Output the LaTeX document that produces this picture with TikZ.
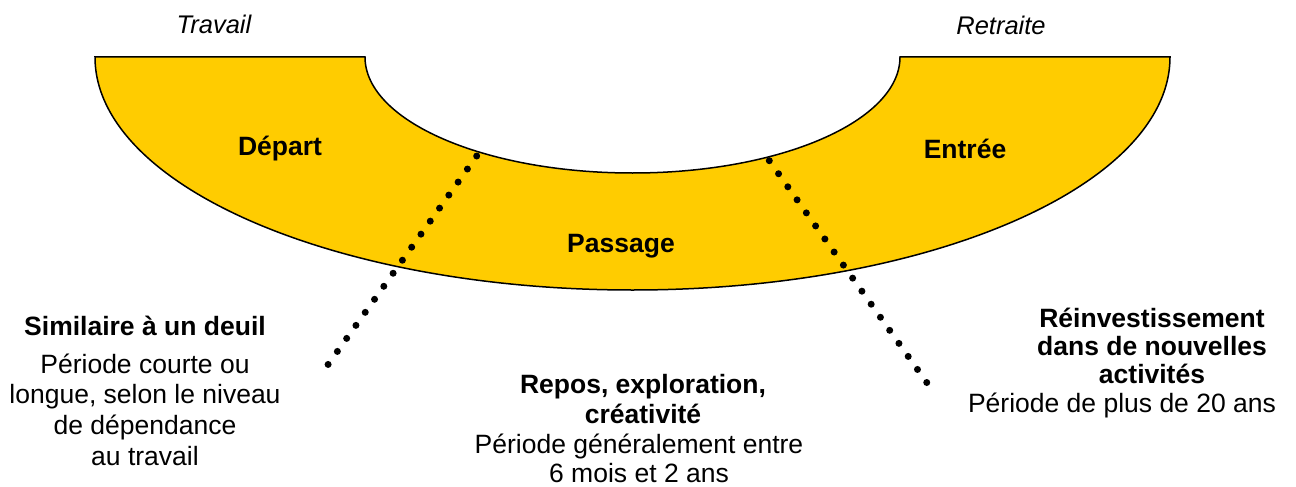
\documentclass[tikz,border=0pt]{standalone}
\usepackage{fontspec}
\setmainfont{Liberation Sans}
\definecolor{bandgold}{HTML}{FFCC00}
\newcommand\blocklines[1]{\begin{tabular}[t]{@{}c@{}}#1\end{tabular}}
\begin{document}
\begin{tikzpicture}[x=1pt,y=-1pt,
  band/.style={fill=bandgold,draw=black,line width=1.5pt,line join=miter},
  dotline/.style={line width=7pt,line cap=round,dash pattern=on 0pt off 16pt},
  lbl/.style={inner sep=0pt,anchor=base},
  txt/.style={lbl,font=\fontsize{26.5}{#1}\selectfont},
  txtb/.style={lbl,font=\fontsize{26.5}{#1}\selectfont\bfseries},
  side/.style={lbl,font=\fontsize{25.5}{30}\selectfont\itshape}]
\useasboundingbox (0,0) rectangle (1296,487);

% band
\draw[band] (95,57) arc[start angle=180,end angle=0,x radius=537.5,y radius=233]
  -- (900,57) arc[start angle=0,end angle=180,x radius=267.5,y radius=116] -- cycle;

% dotted separators
\coordinate (la) at (476.7,156);
\coordinate (lb) at (327.7,365);
\coordinate (ra) at (769.3,160.7);
\coordinate (rb) at (927.3,383.3);
\draw[dotline] (la) -- (lb);
\draw[dotline] (ra) -- (rb);

% labels
\node[side] (travail) at (214,33.5) {Travail};
\node[side] (retraite) at (1001,35) {Retraite};
\node[txtb=30] (depart) at (280,155) {Départ};
\node[txtb=30] (entree) at (965,158) {Entrée};
\node[txtb=30] (passage) at (621,252) {Passage};

\node[txtb=30] (deuiltitle) at (145,335) {Similaire à un deuil};
\node[txt=30.7] (deuilbody) at (145,373) {\blocklines{Période courte ou\\longue, selon le niveau\\de dépendance\\au travail}};

\node[txtb=30] (repostitle) at (643,393) {\blocklines{Repos, exploration,\\créativité}};
\node[txt=29] (reposbody) at (639,453) {\blocklines{Période généralement entre\\6 mois et 2 ans}};

\node[txtb=28] (reinvtitle) at (1152,327) {\blocklines{Réinvestissement\\dans de nouvelles\\activités}};
\node[txt=28] (reinvbody) at (1122,412) {Période de plus de 20 ans};
\end{tikzpicture}
\end{document}
